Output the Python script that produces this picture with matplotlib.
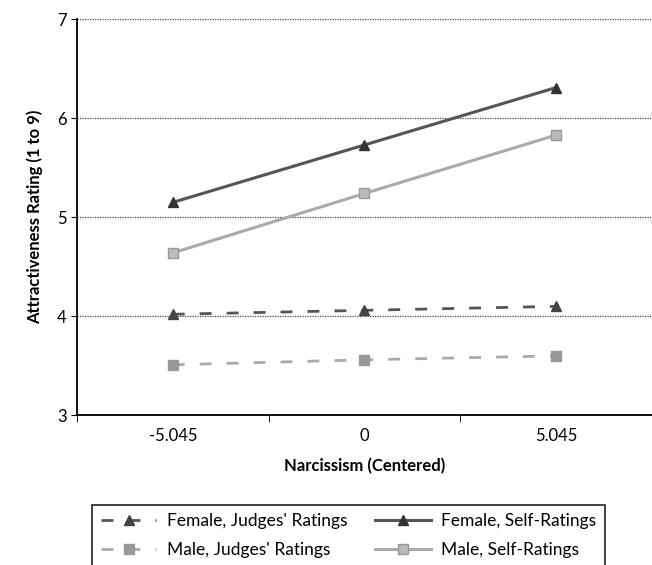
import matplotlib
matplotlib.use('Agg')
import matplotlib.pyplot as plt

plt.rcParams['font.family'] = ['Lato', 'DejaVu Sans']

# categories on the x axis
categories = ['-5.045', '0', '5.045']

# attractiveness ratings
female_judges = [4.02, 4.06, 4.10]
female_self = [5.15, 5.73, 6.31]
male_judges = [3.51, 3.56, 3.60]
male_self = [4.64, 5.24, 5.83]

fig = plt.figure(figsize=(6.52, 5.65), dpi=100)
ax = fig.add_axes([0.118, 0.265, 0.882, 0.701])

x = range(len(categories))

l_fj, = ax.plot(x, female_judges, color='#555555', lw=2, dashes=(4.3, 5.4),
                marker='^', ms=7, mfc='#444444', mec='#444444',
                label="Female, Judges' Ratings")
l_fs, = ax.plot(x, female_self, color='#555555', lw=2.2, marker='^', ms=7,
                mfc='#333333', mec='#333333', label='Female, Self-Ratings')
l_mj, = ax.plot(x, male_judges, color='#aaaaaa', lw=2, dashes=(4.3, 5.4),
                marker='s', ms=7, mfc='#999999', mec='#999999',
                label="Male, Judges' Ratings")
l_ms, = ax.plot(x, male_self, color='#aaaaaa', lw=2.2, marker='s', ms=7,
                mfc='#bbbbbb', mec='#999999', label='Male, Self-Ratings')

ax.set_xlim(-0.5, 2.5)
ax.set_ylim(3, 7)
ax.set_yticks([3, 4, 5, 6, 7])
ax.set_xticks(list(x))
ax.set_xticklabels(categories, fontsize=12)
ax.tick_params(axis='y', labelsize=12, length=4, direction='out')
# ticks between categories, as in the source
ax.set_xticks([-0.5, 0.5, 1.5, 2.5], minor=True)
ax.tick_params(axis='x', which='major', length=0, pad=9)
ax.tick_params(axis='x', which='minor', length=5, direction='out')

for v in [4, 5, 6, 7]:
    ax.axhline(v, color='#444444', lw=0.9, ls=(0, (1, 1)), zorder=0)

ax.spines['top'].set_visible(False)
ax.spines['right'].set_visible(False)
ax.spines['left'].set_linewidth(1.3)
ax.spines['bottom'].set_linewidth(1.3)

ax.set_xlabel('Narcissism (Centered)', fontsize=12, fontweight='bold', labelpad=10)
ax.set_ylabel('Attractiveness Rating (1 to 9)', fontsize=12, fontweight='bold', labelpad=10)

# the legend box runs past the bottom edge, as in the source
leg = fig.legend([l_fj, l_mj, l_fs, l_ms],
                 [l.get_label() for l in (l_fj, l_mj, l_fs, l_ms)],
                 loc='upper left', bbox_to_anchor=(0.128, 0.122), ncol=2,
                 fontsize=12.5, frameon=True, fancybox=False, edgecolor='black',
                 handlelength=3.2, columnspacing=1.6, borderpad=0.5,
                 labelspacing=0.75, handletextpad=0.6)
leg.get_frame().set_linewidth(1.3)

fig.savefig('out.png', dpi=100)
